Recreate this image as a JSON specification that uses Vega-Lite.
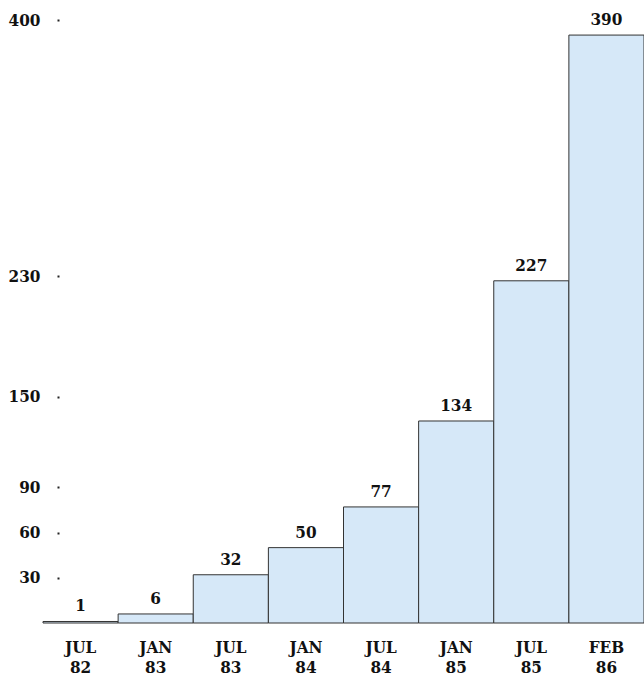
{
  "$schema": "https://vega.github.io/schema/vega-lite/v6.json",
  "autosize": {"type": "none"},
  "width": 601,
  "height": 603,
  "padding": {"left": 43, "top": 20, "right": 0, "bottom": 53},
  "background": "white",
  "config": {"view": {"stroke": null}, "font": "DejaVu Serif Condensed, DejaVu Serif"},
  "data": {"values": [
    {"period": "JUL 82", "count": 1},
    {"period": "JAN 83", "count": 6},
    {"period": "JUL 83", "count": 32},
    {"period": "JAN 84", "count": 50},
    {"period": "JUL 84", "count": 77},
    {"period": "JAN 85", "count": 134},
    {"period": "JUL 85", "count": 227},
    {"period": "FEB 86", "count": 390}
  ]},
  "encoding": {
    "x": {
      "field": "period", "type": "nominal", "sort": null,
      "scale": {"paddingInner": 0, "paddingOuter": 0},
      "axis": {
        "title": null, "domain": false, "ticks": false, "labelAngle": 0,
        "labelExpr": "split(datum.label, ' ')",
        "labelFont": "DejaVu Serif Condensed, DejaVu Serif",
        "labelFontWeight": "bold", "labelFontSize": 17, "labelColor": "#111",
        "labelPadding": 16, "labelLineHeight": 20
      }
    },
    "y": {
      "field": "count", "type": "quantitative",
      "scale": {"domain": [0, 400], "nice": false, "zero": true},
      "axis": {
        "title": null, "domain": false, "grid": false,
        "values": [30, 60, 90, 150, 230, 400],
        "tickSize": -17, "tickDash": [0, 14, 2, 20], "tickWidth": 2, "tickColor": "#222",
        "labelFont": "DejaVu Serif Condensed, DejaVu Serif",
        "labelFontWeight": "bold", "labelFontSize": 17, "labelColor": "#111",
        "labelPadding": 20
      }
    }
  },
  "layer": [
    {"mark": {"type": "bar", "fill": "#d6e8f8", "stroke": "#333", "strokeWidth": 1}},
    {
      "mark": {"type": "text", "baseline": "bottom", "dy": -6, "fontWeight": "bold", "fontSize": 17, "font": "DejaVu Serif Condensed, DejaVu Serif", "color": "#111"},
      "encoding": {"text": {"field": "count", "type": "quantitative"}}
    }
  ]
}
